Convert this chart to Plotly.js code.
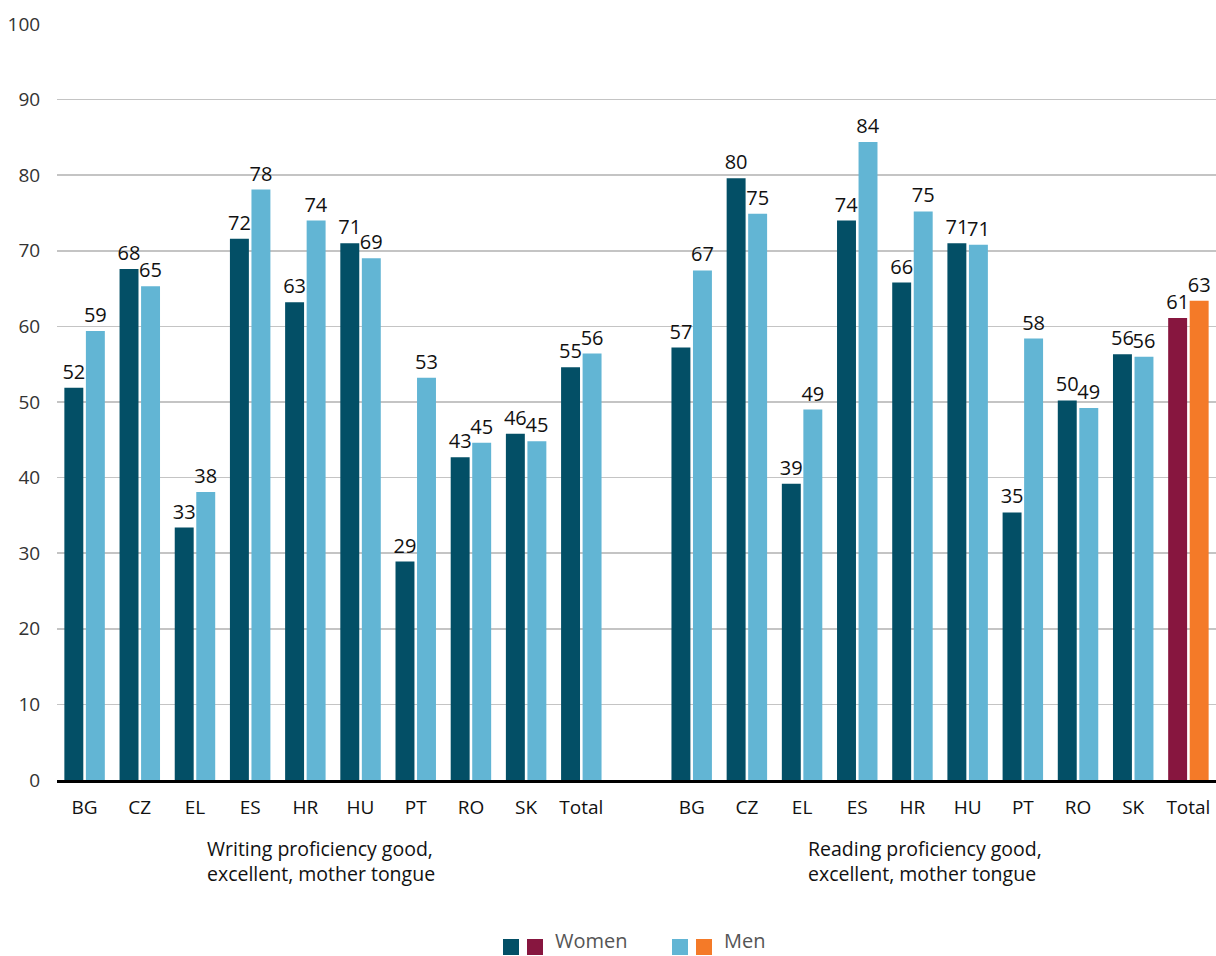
<!DOCTYPE html>
<html>
<head>
<meta charset="utf-8">
<script src="https://cdn.plot.ly/plotly-3.0.1.min.js"></script>
<style>
  html, body { margin: 0; padding: 0; background: #fff; }
  #chart { width: 1216px; height: 956px; }
</style>
</head>
<body>
<div id="chart"></div>
<script>
// Country codes shown under each group of bars
const categories = ['BG', 'CZ', 'EL', 'ES', 'HR', 'HU', 'PT', 'RO', 'SK', 'Total'];

// Share (%) rating their proficiency good or excellent / mother tongue
const writingWomen = [51.9, 67.6, 33.4, 71.6, 63.2, 71.0, 28.9, 42.7, 45.8, 54.6];
const writingMen   = [59.4, 65.3, 38.1, 78.1, 74.0, 69.0, 53.2, 44.6, 44.8, 56.4];
const readingWomen = [57.2, 79.6, 39.2, 74.0, 65.8, 71.0, 35.4, 50.2, 56.3, 61.1];
const readingMen   = [67.4, 74.9, 49.0, 84.4, 75.2, 70.8, 58.4, 49.2, 56.0, 63.4];

const groupTitles = [
  'Writing proficiency good,<br>excellent, mother tongue',
  'Reading proficiency good,<br>excellent, mother tongue'
];
const seriesNames = ['Women', 'Men'];

const FONT = '"Open Sans", "Noto Sans", sans-serif';
const C = {
  women: '#034f66', men: '#62b5d4',
  womenTotal: '#87163f', menTotal: '#f47a28'
};

// Second group sits after one empty slot
const offset = categories.length + 1;
const xs = categories.map((_, i) => i).concat(categories.map((_, i) => i + offset));
const ticktext = categories.concat(categories);

function colours(base, last) {
  return xs.map((_, i) => (i === xs.length - 1 ? last : base));
}

const textFont = { family: FONT, size: 20, color: '#111' };

const traces = [
  {
    type: 'bar', name: seriesNames[0], x: xs,
    y: writingWomen.concat(readingWomen),
    marker: { color: colours(C.women, C.womenTotal) },
    texttemplate: '%{y:.0f}', textposition: 'outside', constraintext: 'none',
    textfont: textFont, cliponaxis: false, showlegend: false,
    hoverinfo: 'skip'
  },
  {
    type: 'bar', name: seriesNames[1], x: xs,
    y: writingMen.concat(readingMen),
    marker: { color: colours(C.men, C.menTotal) },
    texttemplate: '%{y:.0f}', textposition: 'outside', constraintext: 'none',
    textfont: textFont, cliponaxis: false, showlegend: false,
    hoverinfo: 'skip'
  }
];

// Plot-area geometry (pixels) used to place the hand-drawn legend
const L = 57, R = 0, T = 24, B = 176;
const W = 1216, H = 956;
const pw = W - L - R, ph = H - T - B;
const px = v => (v - L) / pw;
const py = v => (H - B - v) / ph;

// Legend: two swatches per series (country bars + total bar)
const shapes = [];
const legendNotes = [];
[[503, [C.women, C.womenTotal], seriesNames[0]], [672, [C.men, C.menTotal], seriesNames[1]]]
  .forEach(([x0, cols, label]) => {
    cols.forEach((c, k) => {
      shapes.push({
        type: 'rect', xref: 'paper', yref: 'paper',
        x0: px(x0 + k * 24), x1: px(x0 + k * 24 + 16),
        y0: py(955), y1: py(939),
        fillcolor: c, line: { width: 0 }
      });
    });
    legendNotes.push({ x: x0 + 50, label: label });
  });

const annotations = [];
legendNotes.forEach(n => annotations.push({
  xref: 'paper', yref: 'paper', x: px(n.x), y: py(940),
  xanchor: 'left', yanchor: 'middle', showarrow: false,
  text: n.label, font: { family: FONT, size: 20, color: '#555' }
}));
[205, 806].forEach((x, g) => annotations.push({
  xref: 'paper', yref: 'paper', x: px(x), y: py(833),
  xanchor: 'left', yanchor: 'top', align: 'left', showarrow: false,
  text: groupTitles[g], font: { family: FONT, size: 19.5, color: '#111' }
}));

const layout = {
  width: W, height: H,
  margin: { l: L, r: R, t: T, b: B, pad: 0 },
  paper_bgcolor: '#fff', plot_bgcolor: '#fff',
  barmode: 'group', bargap: 0.22, bargroupgap: 0.12,
  showlegend: false,
  xaxis: {
    range: [-0.5, xs[xs.length - 1] + 0.5],
    tickmode: 'array', tickvals: xs, ticktext: ticktext,
    showgrid: false, zeroline: false,
    showline: true, linecolor: '#000', linewidth: 3,
    ticks: 'outside', ticklen: 8, tickcolor: 'rgba(0,0,0,0)',
    tickfont: { family: FONT, size: 19, color: '#111' },
    fixedrange: true
  },
  yaxis: {
    range: [0, 100], dtick: 10, tick0: 0,
    showgrid: true, gridcolor: '#c4c4c4', gridwidth: 1.5,
    zeroline: false, showline: false,
    ticks: 'outside', ticklen: 12, tickcolor: 'rgba(0,0,0,0)',
    tickfont: { family: FONT, size: 19, color: '#333' },
    fixedrange: true
  },
  shapes: shapes,
  annotations: annotations,
  font: { family: FONT }
};

Plotly.newPlot('chart', traces, layout, { displayModeBar: false, staticPlot: true });
</script>
</body>
</html>
